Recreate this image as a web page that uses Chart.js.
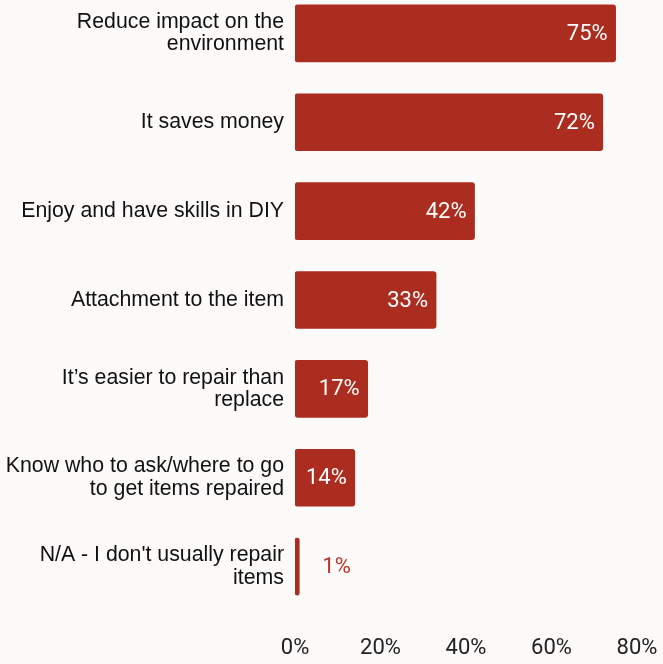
<!DOCTYPE html>
<html>
<head>
<meta charset="utf-8">
<script src="https://cdn.jsdelivr.net/npm/chart.js@4"></script>
<style>
	html, body { margin: 0; padding: 0; background: #fcfbfa; overflow: hidden; }
	#wrap { position: absolute; left: 0; top: -11px; width: 663px; height: 675px; }
</style>
</head>
<body>
<div id="wrap"><canvas id="myChart"></canvas></div>
<script>
var Reasons = [
	['Reduce impact on the', 'environment'],
	'It saves money',
	'Enjoy and have skills in DIY',
	'Attachment to the item',
	['It\u2019s easier to repair than', 'replace'],
	['Know who to ask/where to go', 'to get items repaired'],
	['N/A - I don\'t usually repair', 'items']
]
var Percent = [75, 72, 42, 33, 17, 14, 1]
var AxisTicks = [0, 20, 40, 60, 80]

var BarColor = '#ab2d1f'
var LabelFont = '22px Roboto'

/* ghi so lieu len tung thanh */
var valueLabels = {
	id: 'valueLabels',
	afterDatasetsDraw: function(chart) {
		var ctx = chart.ctx
		var meta = chart.getDatasetMeta(0)
		ctx.save()
		ctx.font = LabelFont
		ctx.textBaseline = 'middle'
		meta.data.forEach(function(bar, idx) {
			var text = Percent[idx] + '%'
			if (bar.x - bar.base > 40) {
				ctx.fillStyle = '#ffffff'
				ctx.textAlign = 'right'
				ctx.fillText(text, bar.x - 8, bar.y + 1)
			} else {
				ctx.fillStyle = '#b83427'
				ctx.textAlign = 'left'
				ctx.fillText(text, bar.x + 23, bar.y + 1)
			}
		})
		ctx.restore()
	}
}

var ctx = document.getElementById('myChart').getContext('2d');
var chart = new Chart(ctx, {
	type: 'bar',
	data: {
		labels: Reasons,
		datasets: [{
			data: Percent,
			backgroundColor: BarColor,
			borderRadius: 3,
			borderSkipped: false,
			barThickness: 57
		}]
	},
	options: {
		indexAxis: 'y',
		maintainAspectRatio: false,
		responsive: true,
		animation: false,
		layout: { padding: { left: 0, right: 26, top: 0, bottom: 0 } },
		plugins: {
			legend: { display: false },
			tooltip: { enabled: false }
		},
		scales: {
			x: {
				min: AxisTicks[0],
				max: AxisTicks[AxisTicks.length - 1],
				grid: { display: false, drawTicks: false },
				border: { display: false },
				afterFit: function(scale) {
					scale.height = 53
					scale.paddingLeft = 0
					scale.paddingRight = 0
				},
				ticks: {
					stepSize: 20,
					padding: 24,
					color: '#222222',
					font: { family: 'Roboto', size: 22 },
					callback: function(v) { return v + '%' }
				}
			},
			y: {
				grid: { display: false, drawTicks: false },
				border: { display: false },
				afterFit: function(scale) {
					scale.width = 295
					scale.paddingTop = 0
					scale.paddingBottom = 0
				},
				ticks: {
					padding: 11,
					color: '#111111',
					font: { family: '"Liberation Sans", Arial, sans-serif', size: 21.3, lineHeight: 1.05 }
				}
			}
		}
	},
	plugins: [valueLabels]
})
</script>
</body>
</html>
